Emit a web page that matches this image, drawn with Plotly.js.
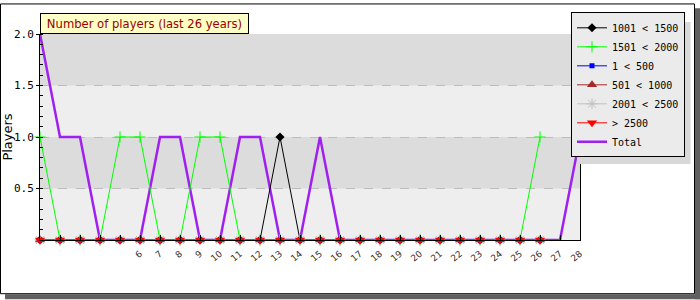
<!DOCTYPE html>
<html>
<head>
<meta charset="utf-8">
<script src="https://cdn.plot.ly/plotly-3.0.1.min.js"></script>
<style>html,body{margin:0;padding:0;background:#fff;}#chart{width:700px;height:300px;}</style>
</head>
<body>
<div id="chart"></div>
<script>
// ---- data ----
var years = [1,2,3,4,5,6,7,8,9,10,11,12,13,14,15,16,17,18,19,20,21,22,23,24,25,26];
var yearsTotal = [1,2,3,4,5,6,7,8,9,10,11,12,13,14,15,16,17,18,19,20,21,22,23,24,25,26,27,28];
var tickLabels = ['','','','','','6','7','8','9','10','11','12','13','14','15','16','17','18','19','20','21','22','23','24','25','26','27','28'];
var s1001_1500 = [0,0,0,0,0,0,0,0,0,0,0,0,1,0,0,0,0,0,0,0,0,0,0,0,0,0];
var s1501_2000 = [1,0,0,0,1,1,0,0,1,1,0,0,0,0,0,0,0,0,0,0,0,0,0,0,0,1];
var s1_500     = [0,0,0,0,0,0,0,0,0,0,0,0,0,0,0,0,0,0,0,0,0,0,0,0,0,0];
var s501_1000  = [0,0,0,0,0,0,0,0,0,0,0,0,0,0,0,0,0,0,0,0,0,0,0,0,0,0];
var s2001_2500 = [0,0,0,0,0,0,0,0,0,0,0,0,0,0,0,0,0,0,0,0,0,0,0,0,0,0];
var sOver2500  = [0,0,0,0,0,0,0,0,0,0,0,0,0,0,0,0,0,0,0,0,0,0,0,0,0,0];
var sTotal     = [2,1,1,0,0,0,1,1,0,0,1,1,0,0,1,0,0,0,0,0,0,0,0,0,0,0,0,1];
var yTickVals = [0.5,1,1.5,2];
var yTickText = ['0.5','1.0','1.5','2.0'];
var bandEdges = [0,0.5,1,1.5,2];
var bandColors = ['#eeeeee','#dcdcdc','#eeeeee','#dcdcdc'];

// ---- helpers: pixel -> paper ----
var L=40, R=120, T=31, B=60, W=700, H=300;
var pw=W-L-R, ph=H-T-B;
function px(x){return (x-L)/pw;}
function py(y){return (H-B-y)/ph;}

var traces = [
  {name:'Total', x:yearsTotal, y:sTotal, mode:'lines', line:{color:'#a020f0', width:2.5}, legendrank:7, cliponaxis:false},
  {name:'1001 &lt; 1500', x:years, y:s1001_1500, mode:'lines+markers', line:{color:'#000000', width:1},
   marker:{symbol:'diamond', size:7, color:'#000000'}, legendrank:1, cliponaxis:false},
  {name:'1501 &lt; 2000', x:years, y:s1501_2000, mode:'lines+markers', line:{color:'#00ff00', width:1},
   marker:{symbol:'cross-thin', size:8, color:'#00ff00', line:{color:'#00ff00', width:1}}, legendrank:2, cliponaxis:false},
  {name:'1 &lt; 500', x:years, y:s1_500, mode:'lines+markers', line:{color:'#0000ff', width:1},
   marker:{symbol:'square', size:5, color:'#0000ff'}, legendrank:3, cliponaxis:false},
  {name:'501 &lt; 1000', x:years, y:s501_1000, mode:'lines+markers', line:{color:'#a52a2a', width:1},
   marker:{symbol:'triangle-up', size:9, color:'#a52a2a'}, legendrank:4, cliponaxis:false},
  {name:'2001 &lt; 2500', x:years, y:s2001_2500, mode:'lines+markers', line:{color:'#c0c0c0', width:1},
   marker:{symbol:'asterisk-open', size:9, color:'#c0c0c0', line:{color:'#c0c0c0', width:1}}, legendrank:5, cliponaxis:false},
  {name:'&gt; 2500', x:years, y:sOver2500, mode:'lines+markers', line:{color:'#ff0000', width:1},
   marker:{symbol:'triangle-down', size:9, color:'#ff0000'}, legendrank:6, cliponaxis:false}
];

var shapes = [];
for (var i=0;i<bandColors.length;i++){
  shapes.push({type:'rect', xref:'paper', yref:'y', x0:0, x1:1, y0:bandEdges[i], y1:bandEdges[i+1],
    fillcolor:bandColors[i], line:{width:0}, layer:'below'});
}
// frame + drop shadow
shapes.push({type:'rect', xref:'paper', yref:'paper', x0:px(695), x1:px(700), y0:py(300), y1:py(5), fillcolor:'#606060', line:{width:0}, layer:'above'});
shapes.push({type:'rect', xref:'paper', yref:'paper', x0:px(5), x1:px(700), y0:py(300), y1:py(295), fillcolor:'#606060', line:{width:0}, layer:'above'});
shapes.push({type:'rect', xref:'paper', yref:'paper', x0:px(0.5), x1:px(694.5), y0:py(294.5), y1:py(0.5), line:{color:'#000', width:1}, layer:'above'});

var layout = {
  width:W, height:H,
  margin:{l:L, r:R, t:T, b:B, pad:0},
  paper_bgcolor:'#ffffff', plot_bgcolor:'#eeeeee',
  showlegend:true,
  font:{family:'DejaVu Sans', size:11, color:'#000'},
  xaxis:{range:[1,28], tickvals:yearsTotal, ticktext:tickLabels, tickmode:'array',
    ticks:'inside', ticklen:5, tickcolor:'#000', tickwidth:1,
    showline:true, linecolor:'#000', linewidth:1, showgrid:false, zeroline:false,
    tickangle:-40, ticklabelstandoff:4, tickfont:{family:'DejaVu Sans', size:9, color:'#333'}, fixedrange:true},
  yaxis:{range:[0,2], tickvals:yTickVals, ticktext:yTickText, tickmode:'array',
    ticks:'outside', ticklen:3, tickcolor:'#000',
    minor:{dtick:0.1, ticks:'inside', ticklen:3, tickcolor:'#000', showgrid:false},
    showline:true, linecolor:'#000', linewidth:1, mirror:true, zeroline:false,
    showgrid:true, gridcolor:'#bcbcbc', griddash:'dash', gridwidth:1,
    tickfont:{family:'DejaVu Sans Mono', size:11, color:'#000'},
    title:{text:'Players', font:{family:'DejaVu Sans', size:13, color:'#000'}, standoff:7}, fixedrange:true},
  legend:{x:px(571), y:py(9), xanchor:'left', yanchor:'top', bgcolor:'#ebebeb', bordercolor:'#000', borderwidth:1,
    font:{family:'DejaVu Sans Mono', size:10, color:'#000'}, itemwidth:30, traceorder:'normal'},
  shapes:shapes,
  annotations:[{text:'Number of players (last 26 years)', xref:'paper', yref:'paper', x:0, y:1, xanchor:'left', yanchor:'bottom',
    showarrow:false, bgcolor:'#ffffc6', bordercolor:'#000', borderwidth:1, borderpad:0, width:207, height:19,
    font:{family:'DejaVu Sans', size:11.6, color:'#990000'}, yshift:0}]
};
Plotly.newPlot('chart', traces, layout, {displayModeBar:false, staticPlot:true}).then(function(gd){
  // drop shadow behind the legend box, sized from the drawn legend
  var bg = gd.querySelector('.legend .bg');
  if (!bg) return;
  var r = bg.getBoundingClientRect();
  var c = gd.getBoundingClientRect();
  var x0 = r.left - c.left + 6, x1 = r.right - c.left + 6;
  var y0 = r.top - c.top + 6, y1 = r.bottom - c.top + 6;
  var s = gd.layout.shapes.slice();
  s.push({type:'rect', xref:'paper', yref:'paper', x0:px(x0), x1:px(x1), y0:py(y1), y1:py(y0), fillcolor:'#d8d8d8', line:{width:0}, layer:'above'});
  return Plotly.relayout(gd, {shapes:s});
});
</script>
</body>
</html>
